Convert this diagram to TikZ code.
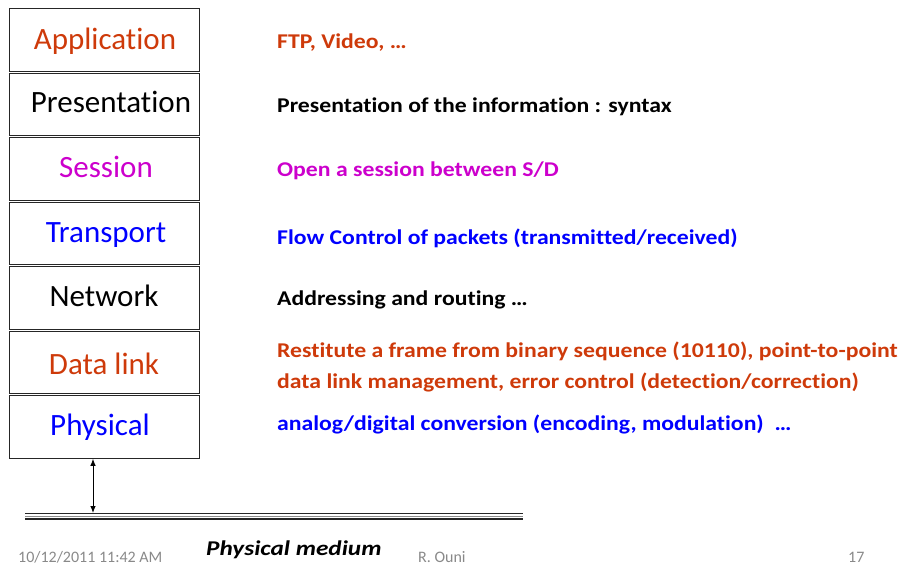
\documentclass[tikz,border=0pt]{standalone}
\usepackage{fontspec}
\setmainfont{Carlito}[Ligatures=NoCommon]
\newfontfamily\descfont{Carlito}[FakeStretch=1.13, Ligatures=NoCommon]
\newfontfamily\medfont{Carlito}[FakeStretch=1.2, Ligatures=NoCommon]
\usetikzlibrary{arrows.meta}
\definecolor{osired}{RGB}{206,58,10}
\definecolor{osimag}{RGB}{204,0,204}
\definecolor{osiblue}{RGB}{0,0,255}
\definecolor{footgray}{RGB}{137,137,137}
\begin{document}
\begin{tikzpicture}[x=1pt,y=-1pt,
  layer/.style={draw=black!85, line width=1.3pt, minimum width=190pt, minimum height=62.5pt, inner sep=0pt, anchor=north west},
  lname/.style={font=\fontsize{31}{33}\selectfont, anchor=base, inner sep=0pt},
  desc/.style={font=\descfont\fontsize{21}{31}\selectfont\bfseries, anchor=base west, inner sep=0pt, align=left},
  foot/.style={font=\fontsize{16}{18}\selectfont, text=footgray, anchor=base west, inner sep=0pt}]
\useasboundingbox (0,0) rectangle (908,565);
% stack
\node[layer] (app) at (9,8) {};
\node[layer] (pre) at (9,72.5) {};
\node[layer] (ses) at (9,137) {};
\node[layer] (tra) at (9,201.5) {};
\node[layer] (net) at (9,266) {};
\node[layer] (dll) at (9,330.5) {};
\node[layer] (phy) at (9,395) {};
% layer names
\node[lname, text=osired] (appt) at (105,49) {Application};
\node[lname, text=black] (pret) at (111,112) {Presentation};
\node[lname, text=osimag] (sest) at (106,177.5) {Session};
\node[lname, text=osiblue] (trat) at (106,242) {Transport};
\node[lname, text=black] (nett) at (104,306.5) {Network};
\node[lname, text=osired] (dllt) at (104,374) {Data link};
\node[lname, text=osiblue] (phyt) at (100,435) {Physical};
% descriptions
\node[desc, text=osired] (appd) at (277,48.7) {FTP, Video, …};
\node[desc, text=black] (pred) at (277,112) {Presentation of the information : syntax};
\node[desc, text=osimag] (sesd) at (277,176) {Open a session between S/D};
\node[desc, text=osiblue] (trad) at (277,244) {Flow Control of packets (transmitted/received)};
\node[desc, text=black] (netd) at (277,305) {Addressing and routing …};
\node[desc, text=osired] (dlld) at (277,388) {Restitute a frame from binary sequence (10110), point-to-point\\data link management, error control (detection/correction)};
\node[desc, text=osiblue] (phyd) at (277,430) {analog/digital conversion (encoding, modulation)\ \ …};
% physical medium
\coordinate (mL) at (25,516.3);
\coordinate (mR) at (523,516.3);
\draw[line width=1.5pt, black!85] ([yshift=-2.8pt]mL) -- ([yshift=-2.8pt]mR);
\draw[line width=1pt, black!45] (mL) -- (mR);
\draw[line width=1.5pt, black!85] ([yshift=2.8pt]mL) -- ([yshift=2.8pt]mR);
\coordinate (tap) at (93,513);
\draw[{Latex[length=7pt,width=5.5pt]}-{Latex[length=7pt,width=5.5pt]}, line width=0.9pt] (phy.south -| tap) -- (tap);
\node[font=\medfont\fontsize{21}{24}\selectfont\bfseries\itshape, anchor=base west, inner sep=0pt] (med) at (206,555.5) {Physical medium};
% footer
\node[foot] (date) at (18,562) {10/12/2011 11:42 AM};
\node[foot] (auth) at (418,562) {R. Ouni};
\node[foot] (page) at (848,562) {17};
\end{tikzpicture}
\end{document}
